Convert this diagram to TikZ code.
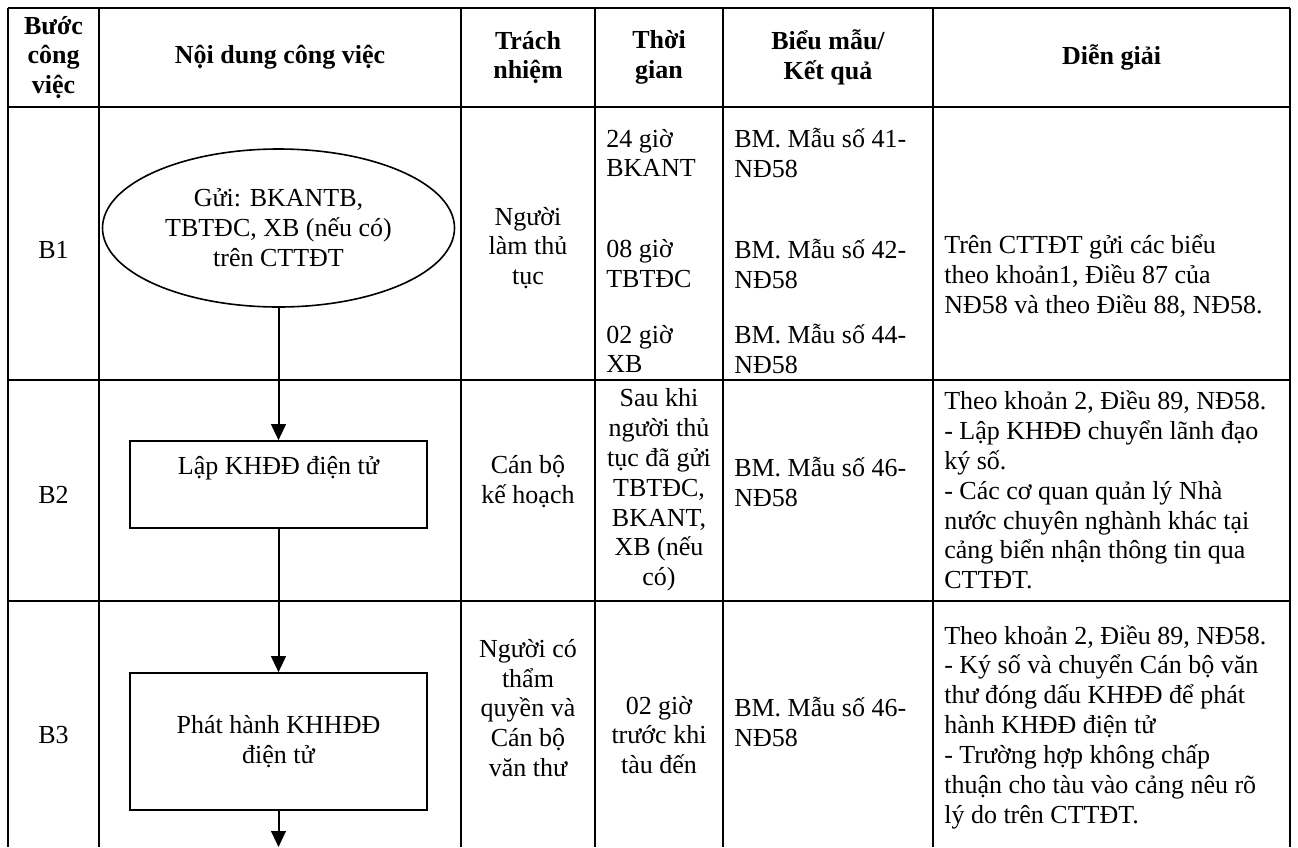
\documentclass[tikz,border=0pt]{standalone}
\usepackage{fontspec}
\setmainfont{Liberation Serif}
\usetikzlibrary{shapes.geometric,arrows.meta}
\newcommand{\myfs}{\fontsize{19.5}{22.4}\selectfont}
\begin{document}
\begin{tikzpicture}[x=0.75pt,y=-0.75pt,
  grid/.style={line width=1.5pt},
  shp/.style={draw,line width=1.2pt,inner sep=0pt},
  txt/.style={inner sep=0pt,align=center,font=\myfs},
  ltxt/.style={inner sep=0pt,align=left,anchor=west,font=\myfs},
  hd/.style={inner sep=0pt,align=center,font=\myfs\bfseries},
  arr/.style={line width=1.5pt,-{Triangle[length=12pt,width=11pt]}}]
\useasboundingbox (0,0) rectangle (1298,847);
% table grid
\foreach \xx in {8,99,461,595,723,933,1290}{\draw[grid] (\xx,8) -- (\xx,847);}
\foreach \yy in {8,107,380,601}{\draw[grid] (8,\yy) -- (1290,\yy);}
% header
\node[hd] (h1) at (53.5,57.5) {Bước\\công\\việc};
\node[hd] (h2) at (280,57.5) {Nội dung công việc};
\node[hd] (h3) at (528,57.5) {Trách\\nhiệm};
\node[hd] (h4) at (659,57.5) {Thời\\gian};
\node[hd] (h5) at (828,57.5) {Biểu mẫu/\\Kết quả};
\node[hd] (h6) at (1111.5,57.5) {Diễn giải};
% B1
\node[txt] (s1) at (53.5,250) {B1};
\node[shp,ellipse,minimum width=264pt,minimum height=118.5pt] (e1) at (278.5,228) {};
\node[txt] (e1t) at (e1.center) {Gửi: BKANTB,\\TBTĐC, XB (nếu có)\\trên CTTĐT};
\node[txt] (r1) at (528,248) {Người\\làm thủ\\tục};
\node[ltxt] (t1a) at (606,153) {24 giờ\\BKANT};
\node[ltxt] (t1b) at (606,264) {08 giờ\\TBTĐC};
\node[ltxt] (t1c) at (606,349) {02 giờ\\XB};
\node[ltxt] (f1a) at (734,153) {BM. Mẫu số 41-\\NĐ58};
\node[ltxt] (f1b) at (734,264) {BM. Mẫu số 42-\\NĐ58};
\node[ltxt] (f1c) at (734,349) {BM. Mẫu số 44-\\NĐ58};
\node[ltxt] (d1) at (944,276) {Trên CTTĐT gửi các biểu\\theo khoản1, Điều 87 của\\NĐ58 và theo Điều 88, NĐ58.};
% B2
\node[txt] (s2) at (53.5,495) {B2};
\node[shp,rectangle,minimum width=222.75pt,minimum height=65.25pt] (b2) at (278.5,484.5) {};
\node[txt] (b2t) at (278.5,468) {Lập KHĐĐ điện tử};
\node[txt] (r2) at (528,482) {Cán bộ\\kế hoạch};
\node[txt] (t2) at (659,490) {Sau khi\\người thủ\\tục đã gửi\\TBTĐC,\\BKANT,\\XB (nếu\\có)};
\node[ltxt] (f2) at (734,482) {BM. Mẫu số 46-\\NĐ58};
\node[ltxt] (d2) at (944,490) {Theo khoản 2, Điều 89, NĐ58.\\- Lập KHĐĐ chuyển lãnh đạo\\ký số.\\- Các cơ quan quản lý Nhà\\nước chuyên nghành khác tại\\cảng biển nhận thông tin qua\\CTTĐT.};
% B3
\node[txt] (s3) at (53.5,735) {B3};
\node[shp,rectangle,minimum width=222.75pt,minimum height=102.75pt] (b3) at (278.5,741.5) {};
\node[txt] (b3t) at (b3.center) {Phát hành KHHĐĐ\\điện tử};
\node[txt] (r3) at (528,708) {Người có\\thẩm\\quyền và\\Cán bộ\\văn thư};
\node[txt] (t3) at (659,735) {02 giờ\\trước khi\\tàu đến};
\node[ltxt] (f3) at (734,722) {BM. Mẫu số 46-\\NĐ58};
\node[ltxt] (d3) at (944,727) {Theo khoản 2, Điều 89, NĐ58.\\- Ký số và chuyển Cán bộ văn\\thư đóng dấu KHĐĐ để phát\\hành KHĐĐ điện tử\\- Trường hợp không chấp\\thuận cho tàu vào cảng nêu rõ\\lý do trên CTTĐT.};
% connectors
\coordinate (bend) at (278.5,847);
\draw[arr] (e1.south) -- (b2.north);
\draw[arr] (b2.south) -- (b3.north);
\draw[arr] (b3.south) -- (bend);
\end{tikzpicture}
\end{document}
